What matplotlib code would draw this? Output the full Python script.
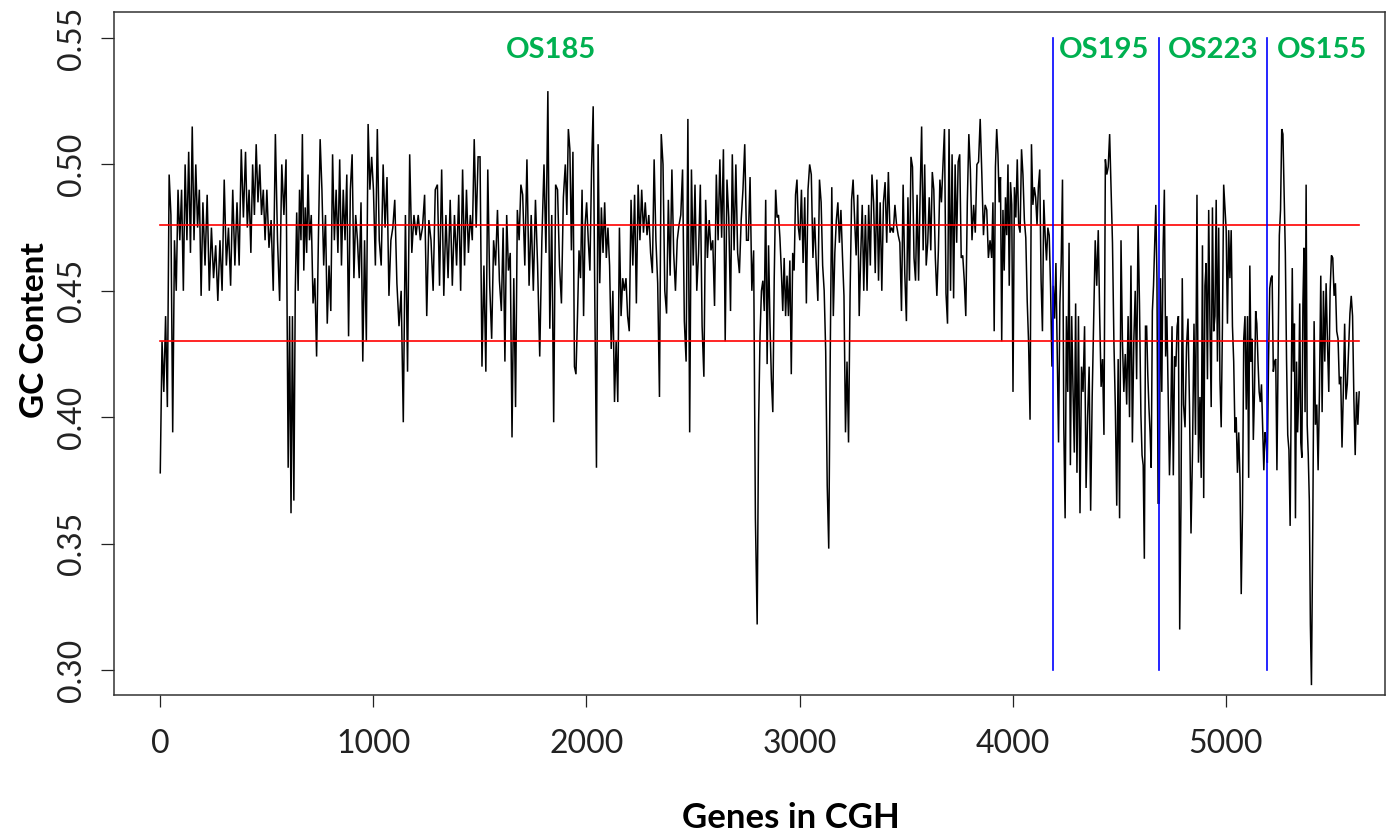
import numpy as np
import matplotlib
matplotlib.use("Agg")
import matplotlib.pyplot as plt

# ---------------- data ----------------
# gene-index edges of the short segments in which values were read
segment_edges = [0, 100, 200, 300, 400, 500, 600, 700, 800, 900,
                 1000, 1100, 1200, 1300, 1400, 1500, 1600, 1700, 1800, 1900,
                 2000, 2100, 2200, 2300, 2400, 2500, 2600, 2700, 2800, 2900,
                 3000, 3100, 3200, 3300, 3400, 3500, 3600, 3700, 3800, 3900,
                 4000, 4100, 4189, 4300, 4400, 4500, 4600, 4686, 4800, 4877,
                 5000, 5100, 5193, 5300, 5400, 5500, 5630]

gc_genes_0000 = [
    [0.378, 0.43, 0.41, 0.44, 0.404, 0.496, 0.48, 0.394, 0.47, 0.45, 0.49, 0.47],
    [0.49, 0.45, 0.50, 0.47, 0.505, 0.465, 0.515, 0.47, 0.50, 0.475, 0.49, 0.448],
    [0.485, 0.46, 0.488, 0.45, 0.475, 0.455, 0.468, 0.446, 0.47, 0.45],
    [0.494, 0.46, 0.475, 0.452, 0.49, 0.46, 0.485, 0.46, 0.506, 0.479],
    [0.505, 0.475, 0.49, 0.465, 0.50, 0.48, 0.508, 0.485, 0.50, 0.48, 0.49, 0.47],
    [0.49, 0.467, 0.478, 0.45, 0.512, 0.47, 0.446, 0.50, 0.48, 0.502],
    [0.38, 0.44, 0.362, 0.44, 0.367, 0.45, 0.481, 0.45, 0.49, 0.47, 0.512, 0.458, 0.483, 0.465, 0.496],
    [0.47, 0.48, 0.445, 0.455, 0.424, 0.47, 0.51, 0.49, 0.46, 0.48, 0.437, 0.46],
    [0.442, 0.504, 0.47, 0.49, 0.465, 0.502, 0.46, 0.49, 0.47, 0.496, 0.432, 0.49],
    [0.504, 0.455, 0.48, 0.47, 0.455, 0.485, 0.422, 0.47, 0.43, 0.516, 0.49, 0.503],
]
gc_genes_1000 = [
    [0.49, 0.46, 0.514, 0.47, 0.46, 0.50, 0.475, 0.495, 0.448, 0.47, 0.475],
    [0.486, 0.453, 0.436, 0.45, 0.398, 0.48, 0.418, 0.504, 0.465, 0.48],
    [0.472, 0.48, 0.47, 0.475, 0.488, 0.44, 0.478, 0.47, 0.45, 0.49],
    [0.492, 0.452, 0.498, 0.448, 0.48, 0.455, 0.486, 0.452, 0.48, 0.46],
    [0.488, 0.45, 0.498, 0.46, 0.49, 0.465, 0.48, 0.47, 0.51, 0.475, 0.503],
    [0.503, 0.42, 0.46, 0.418, 0.498, 0.452, 0.431, 0.47, 0.46, 0.482, 0.454],
    [0.442, 0.475, 0.422, 0.48, 0.458, 0.465, 0.392, 0.455, 0.404, 0.482, 0.47, 0.492],
    [0.488, 0.46, 0.502, 0.452, 0.48, 0.45, 0.486, 0.46, 0.424, 0.47],
    [0.50, 0.465, 0.529, 0.435, 0.48, 0.398, 0.492, 0.49, 0.46, 0.445, 0.487],
    [0.50, 0.48, 0.514, 0.506, 0.466, 0.505, 0.42, 0.417, 0.44, 0.466, 0.455, 0.49, 0.44, 0.476],
]
gc_genes_2000 = [
    [0.485, 0.47, 0.458, 0.498, 0.523, 0.445, 0.380, 0.508, 0.453, 0.483, 0.465, 0.485, 0.463],
    [0.475, 0.46, 0.427, 0.45, 0.406, 0.43, 0.406, 0.475, 0.44, 0.455, 0.45, 0.455, 0.44],
    [0.434, 0.486, 0.46, 0.488, 0.445, 0.492, 0.47, 0.49, 0.473, 0.485, 0.472, 0.48],
    [0.465, 0.457, 0.502, 0.47, 0.453, 0.408, 0.512, 0.50, 0.45, 0.441, 0.486, 0.456],
    [0.498, 0.465, 0.45, 0.47, 0.476, 0.48, 0.498, 0.438, 0.422, 0.518, 0.394, 0.498],
    [0.46, 0.492, 0.45, 0.465, 0.492, 0.436, 0.416, 0.486, 0.463, 0.478, 0.466, 0.47],
    [0.444, 0.496, 0.47, 0.502, 0.471, 0.506, 0.43, 0.494, 0.479, 0.442, 0.504, 0.466],
    [0.50, 0.465, 0.457, 0.478, 0.49, 0.508, 0.47, 0.47, 0.495, 0.45, 0.466, 0.36],
    [0.318, 0.397, 0.432, 0.45, 0.454, 0.442, 0.486, 0.421, 0.468, 0.437, 0.415, 0.402, 0.455, 0.49, 0.479],
    [0.48, 0.471, 0.458, 0.442, 0.463, 0.44, 0.456, 0.44, 0.462, 0.417, 0.465, 0.458, 0.488, 0.494, 0.475],
]
gc_genes_3000 = [
    [0.47, 0.49, 0.461, 0.487, 0.445, 0.49, 0.50, 0.496, 0.463, 0.479, 0.461, 0.446, 0.494],
    [0.485, 0.46, 0.45, 0.426, 0.373, 0.348, 0.426, 0.491, 0.44, 0.465, 0.478, 0.485, 0.469, 0.482],
    [0.464, 0.448, 0.394, 0.422, 0.39, 0.448, 0.486, 0.494, 0.478, 0.464, 0.488, 0.44, 0.464, 0.484],
    [0.45, 0.48, 0.45, 0.484, 0.46, 0.496, 0.485, 0.457, 0.494, 0.454, 0.485, 0.45, 0.485],
    [0.493, 0.469, 0.497, 0.473, 0.475, 0.473, 0.484, 0.476, 0.472, 0.469, 0.442, 0.492, 0.457],
    [0.438, 0.487, 0.454, 0.503, 0.499, 0.463, 0.454, 0.488, 0.454, 0.488, 0.515, 0.466, 0.50, 0.46],
    [0.469, 0.487, 0.466, 0.497, 0.49, 0.463, 0.448, 0.466, 0.494, 0.485, 0.50, 0.514, 0.449, 0.437],
    [0.514, 0.45, 0.504, 0.447, 0.50, 0.469, 0.501, 0.504, 0.463, 0.464, 0.454, 0.44, 0.485, 0.512],
    [0.498, 0.47, 0.484, 0.473, 0.50, 0.501, 0.518, 0.496, 0.472, 0.484, 0.482, 0.463, 0.47],
    [0.463, 0.485, 0.434, 0.499, 0.514, 0.504, 0.485, 0.495, 0.43, 0.482, 0.458, 0.487, 0.472, 0.50, 0.452, 0.493, 0.484],
]
gc_genes_4000 = [
    [0.41, 0.491, 0.479, 0.502, 0.476, 0.473, 0.506, 0.496, 0.478, 0.471, 0.446, 0.429, 0.399, 0.508, 0.484],
    [0.491, 0.487, 0.476, 0.491, 0.498, 0.454, 0.434, 0.486, 0.472, 0.462, 0.475, 0.472, 0.451, 0.42],
    [0.452, 0.439, 0.461, 0.425, 0.39, 0.445, 0.461, 0.494, 0.396, 0.36, 0.44, 0.41, 0.469, 0.381, 0.44, 0.411, 0.386, 0.445],
    [0.378, 0.44, 0.362, 0.42, 0.41, 0.436, 0.372, 0.40, 0.42, 0.363, 0.408, 0.44, 0.47, 0.452],
    [0.474, 0.44, 0.412, 0.423, 0.393, 0.502, 0.496, 0.499, 0.512, 0.49, 0.469, 0.43, 0.404, 0.365, 0.423],
    [0.36, 0.47, 0.43, 0.41, 0.425, 0.405, 0.44, 0.40, 0.46, 0.39, 0.43, 0.45, 0.415, 0.476, 0.445],
    [0.401, 0.385, 0.381, 0.344, 0.436, 0.436, 0.417, 0.404, 0.394, 0.38, 0.442, 0.452, 0.468, 0.484, 0.455, 0.366],
    [0.366, 0.455, 0.41, 0.466, 0.49, 0.424, 0.44, 0.408, 0.377, 0.398, 0.436, 0.377, 0.424, 0.42, 0.436, 0.44, 0.316, 0.366, 0.455],
    [0.405, 0.396, 0.428, 0.439, 0.404, 0.354, 0.386, 0.437, 0.393, 0.488, 0.382],
    [0.408, 0.376, 0.468, 0.368, 0.452, 0.461, 0.415, 0.482, 0.437, 0.404, 0.483, 0.434, 0.44, 0.486, 0.422, 0.475, 0.415, 0.396, 0.436, 0.492, 0.483],
]
gc_genes_5000 = [
    [0.474, 0.437, 0.474, 0.455, 0.474, 0.436, 0.422, 0.394, 0.40, 0.378, 0.394, 0.376, 0.33, 0.363, 0.431, 0.44, 0.403],
    [0.44, 0.376, 0.46, 0.422, 0.431, 0.391, 0.41, 0.442, 0.437, 0.422, 0.41, 0.406, 0.413, 0.396, 0.379, 0.394, 0.391],
    [0.382, 0.422, 0.451, 0.455, 0.456, 0.418, 0.422, 0.423, 0.379, 0.425, 0.472, 0.482, 0.514, 0.512, 0.488, 0.465, 0.423, 0.393, 0.387],
    [0.357, 0.407, 0.459, 0.418, 0.437, 0.36, 0.422, 0.394, 0.408, 0.445, 0.39, 0.384, 0.445, 0.467, 0.402, 0.492, 0.397, 0.385, 0.367, 0.318],
    [0.294, 0.357, 0.438, 0.397, 0.405, 0.379, 0.41, 0.456, 0.402, 0.45, 0.422, 0.453, 0.43, 0.41, 0.45, 0.464],
    [0.463, 0.448, 0.453, 0.434, 0.431, 0.413, 0.416, 0.388, 0.41, 0.437, 0.407, 0.413, 0.427, 0.441, 0.448, 0.44, 0.407, 0.385, 0.41, 0.397, 0.41],
]

threshold_levels = [0.476, 0.430]
boundary_genes = [4189, 4686, 5193]
strain_labels = ["OS185", "OS195", "OS223", "OS155"]
strain_label_x = [1834, 4428, 4939, 5450]
x_ticks = [0, 1000, 2000, 3000, 4000, 5000]
y_ticks = [0.30, 0.35, 0.40, 0.45, 0.50, 0.55]

# ---------------- assemble series ----------------
all_segments = gc_genes_0000 + gc_genes_1000 + gc_genes_2000 + gc_genes_3000 + gc_genes_4000 + gc_genes_5000
xs, ys = [], []
for i, seg in enumerate(all_segments):
    a, b = segment_edges[i], segment_edges[i + 1]
    xs.extend(np.linspace(a, b, len(seg), endpoint=False))
    ys.extend(seg)
xs = np.array(xs) + 1
ys = np.array(ys)

# ---------------- figure ----------------
W, H = 1391, 836
fig = plt.figure(figsize=(W / 100, H / 100), dpi=100)
ax = fig.add_axes([114 / W, 1 - 695 / H, (1385 - 114) / W, (695 - 12) / H])

ax.plot(xs, ys, color="black", lw=1.1, solid_joinstyle="miter")
for lvl in threshold_levels:
    ax.plot([xs[0], xs[-1]], [lvl, lvl], color="#FF0000", lw=1.2)
for g in boundary_genes:
    ax.plot([g, g], [0.30, 0.55], color="#0000FF", lw=1.2)

green = "#00B050"
for lab, gx in zip(strain_labels, strain_label_x):
    ax.text(gx, 0.5453, lab, color=green, fontsize=21, fontweight="bold",
            family="Lato", ha="center", va="center")

ax.set_xlim(-216, 5746)
ax.set_ylim(0.2901, 0.5603)
ax.set_xticks(x_ticks)
ax.set_xticklabels([str(t) for t in x_ticks])
ax.set_yticks(y_ticks)
ax.set_yticklabels([f"{t:.2f}" for t in y_ticks], rotation=90, va="center")

for lbl in ax.get_xticklabels() + ax.get_yticklabels():
    lbl.set_family("Lato")
    lbl.set_fontsize(23)
ax.tick_params(axis="x", length=8.6, width=0.9, pad=16, colors="#222222")
ax.tick_params(axis="y", length=9.5, width=0.9, pad=10, colors="#222222")
for sp in ax.spines.values():
    sp.set_color("#333333")
    sp.set_linewidth(1.1)

fig.text(791 / W, 1 - 818 / H, "Genes in CGH", family="Lato", fontweight="bold",
         fontsize=25, ha="center", va="center")
fig.text(35 / W, 1 - 330 / H, "GC Content", family="Lato", fontweight="bold",
         fontsize=24, ha="center", va="center", rotation=90)

fig.savefig("out.png", dpi=100)
